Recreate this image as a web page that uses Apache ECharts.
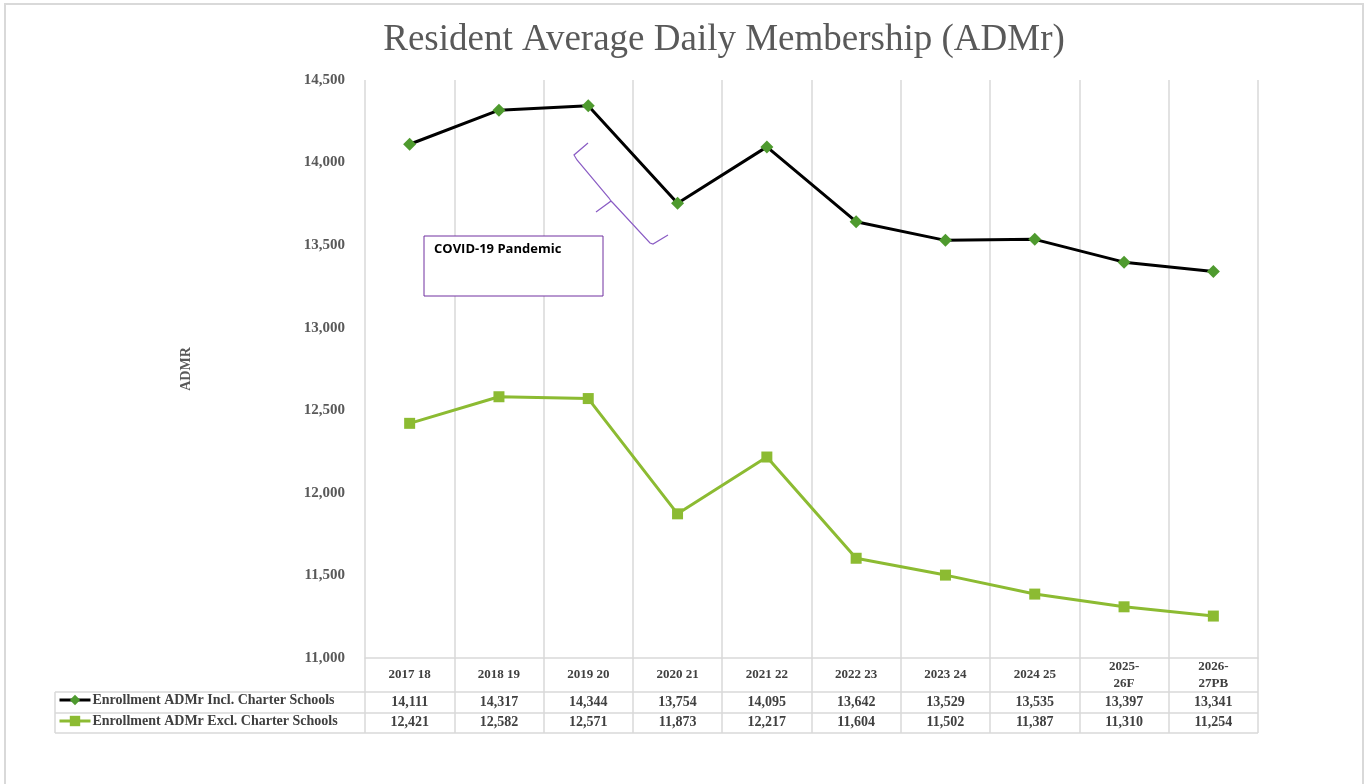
<!DOCTYPE html>
<html>
<head>
<meta charset="utf-8">
<script src="https://cdn.jsdelivr.net/npm/echarts@6/dist/echarts.min.js"></script>
<style>
  html, body { margin: 0; padding: 0; background: #fff; }
  #chart { width: 1367px; height: 784px; }
</style>
</head>
<body>
<div id="chart"></div>
<script>
// school years (header row of the data table)
var years = ['2017 18', '2018 19', '2019 20', '2020 21', '2021 22', '2022 23', '2023 24', '2024 25', '2025-\n26F', '2026-\n27PB'];
var inclCharter = [14111, 14317, 14344, 13754, 14095, 13642, 13529, 13535, 13397, 13341];
var exclCharter = [12421, 12582, 12571, 11873, 12217, 11604, 11502, 11387, 11310, 11254];
var yTicks = { min: 11000, max: 14500, step: 500 };

var serif = '"Liberation Serif", "Times New Roman", serif';
var gridLine = '#d9d9d9';

function fmt(v) {
    return v.toLocaleString('en-US');
}

var myChart = echarts.init(document.getElementById('chart'));

myChart.setOption({
    title: {
        text: 'Resident Average Daily Membership (ADMr)',
        left: 719,
        top: 17,
        textAlign: 'center',
        textStyle: {
            fontFamily: serif,
            fontWeight: 'normal',
            fontSize: 37,
            color: '#595959'
        }
    },
    grid: {
        left: 365,
        right: 109,
        top: 80,
        bottom: 126
    },
    legend: {
        orient: 'vertical',
        left: 58,
        top: 693,
        padding: 0,
        itemWidth: 31,
        itemHeight: 13,
        itemGap: 7,
        lineStyle: { width: 3 },
        textStyle: {
            fontFamily: serif,
            fontWeight: 'bold',
            fontSize: 14,
            color: '#404040',
            padding: [0, 0, 0, -3]
        },
        data: ['Enrollment ADMr Incl. Charter Schools', 'Enrollment ADMr Excl. Charter Schools']
    },
    xAxis: {
        type: 'category',
        data: years,
        boundaryGap: true,
        axisLine: { lineStyle: { color: gridLine, width: 1.5 } },
        axisTick: { show: true, length: 75, lineStyle: { color: gridLine, width: 1.5 } },
        splitLine: { show: true, lineStyle: { color: gridLine, width: 1.5 } },
        axisLabel: {
            interval: 0,
            margin: 0,
            verticalAlign: 'top',
            formatter: function (value, idx) {
                var head;
                if (value.indexOf('\n') >= 0) {
                    var parts = value.split('\n');
                    head = '{h2|' + parts[0] + '}\n{h2|' + parts[1] + '}';
                } else {
                    head = '{h|' + value + '}';
                }
                return head + '\n{v|' + fmt(inclCharter[idx]) + '}\n{v|' + fmt(exclCharter[idx]) + '}';
            },
            rich: {
                h: { fontFamily: serif, fontWeight: 'bold', fontSize: 13, color: '#404040', lineHeight: 34, height: 34 },
                h2: { fontFamily: serif, fontWeight: 'bold', fontSize: 13, color: '#404040', lineHeight: 17, height: 17 },
                v: { fontFamily: serif, fontWeight: 'bold', fontSize: 14, color: '#404040', lineHeight: 20, height: 20 }
            }
        }
    },
    yAxis: {
        type: 'value',
        min: yTicks.min,
        max: yTicks.max,
        interval: yTicks.step,
        name: 'ADMR',
        nameLocation: 'middle',
        nameRotate: 90,
        nameGap: 172,
        nameTextStyle: {
            fontFamily: serif,
            fontWeight: 'bold',
            fontSize: 14,
            color: '#595959'
        },
        axisLine: { show: false },
        axisTick: { show: false },
        splitLine: { show: false },
        axisLabel: {
            margin: 20,
            fontFamily: serif,
            fontWeight: 'bold',
            fontSize: 15,
            color: '#595959',
            formatter: function (v) { return fmt(v); }
        }
    },
    series: [{
        name: 'Enrollment ADMr Incl. Charter Schools',
        type: 'line',
        data: inclCharter,
        symbol: 'diamond',
        symbolSize: 13,
        lineStyle: { color: '#000', width: 3 },
        itemStyle: { color: '#4e9a2e', borderWidth: 0 },
        z: 3
    }, {
        name: 'Enrollment ADMr Excl. Charter Schools',
        type: 'line',
        data: exclCharter,
        symbol: 'rect',
        symbolSize: 11,
        lineStyle: { color: '#8cbb32', width: 3 },
        itemStyle: { color: '#8cbb32', borderWidth: 0 },
        z: 2
    }],
    graphic: [
        // outer chart border
        { type: 'rect', shape: { x: 5, y: 4, width: 1358, height: 800 }, style: { fill: 'none', stroke: gridLine, lineWidth: 2 }, silent: true },
        // data table row lines
        { type: 'line', shape: { x1: 55, y1: 692, x2: 1258, y2: 692 }, style: { stroke: gridLine, lineWidth: 1.5 } },
        { type: 'line', shape: { x1: 55, y1: 713, x2: 1258, y2: 713 }, style: { stroke: gridLine, lineWidth: 1.5 } },
        { type: 'line', shape: { x1: 55, y1: 733, x2: 1258, y2: 733 }, style: { stroke: gridLine, lineWidth: 1.5 } },
        { type: 'line', shape: { x1: 55, y1: 692, x2: 55, y2: 733 }, style: { stroke: gridLine, lineWidth: 1.5 } },
        // COVID annotation
        { type: 'rect', shape: { x: 424, y: 236, width: 179, height: 60 }, style: { fill: '#fff', stroke: '#7030a0', lineWidth: 1 }, z: 10 },
        { type: 'text', left: 434, top: 243, style: { text: 'COVID-19 Pandemic', font: 'bold 13px "Open Sans", "Liberation Sans", sans-serif', fill: '#000' }, z: 11 },
        { type: 'polyline', shape: { points: [[588, 143], [574, 155], [577, 160], [609, 198], [611, 201], [596, 212]] }, style: { stroke: '#8a5cc4', lineWidth: 1.2, fill: 'none' }, z: 10 },
        { type: 'polyline', shape: { points: [[611, 201], [613, 203], [650, 243], [653, 244], [668, 235]] }, style: { stroke: '#8a5cc4', lineWidth: 1.2, fill: 'none' }, z: 10 }
    ]
});
</script>
</body>
</html>
